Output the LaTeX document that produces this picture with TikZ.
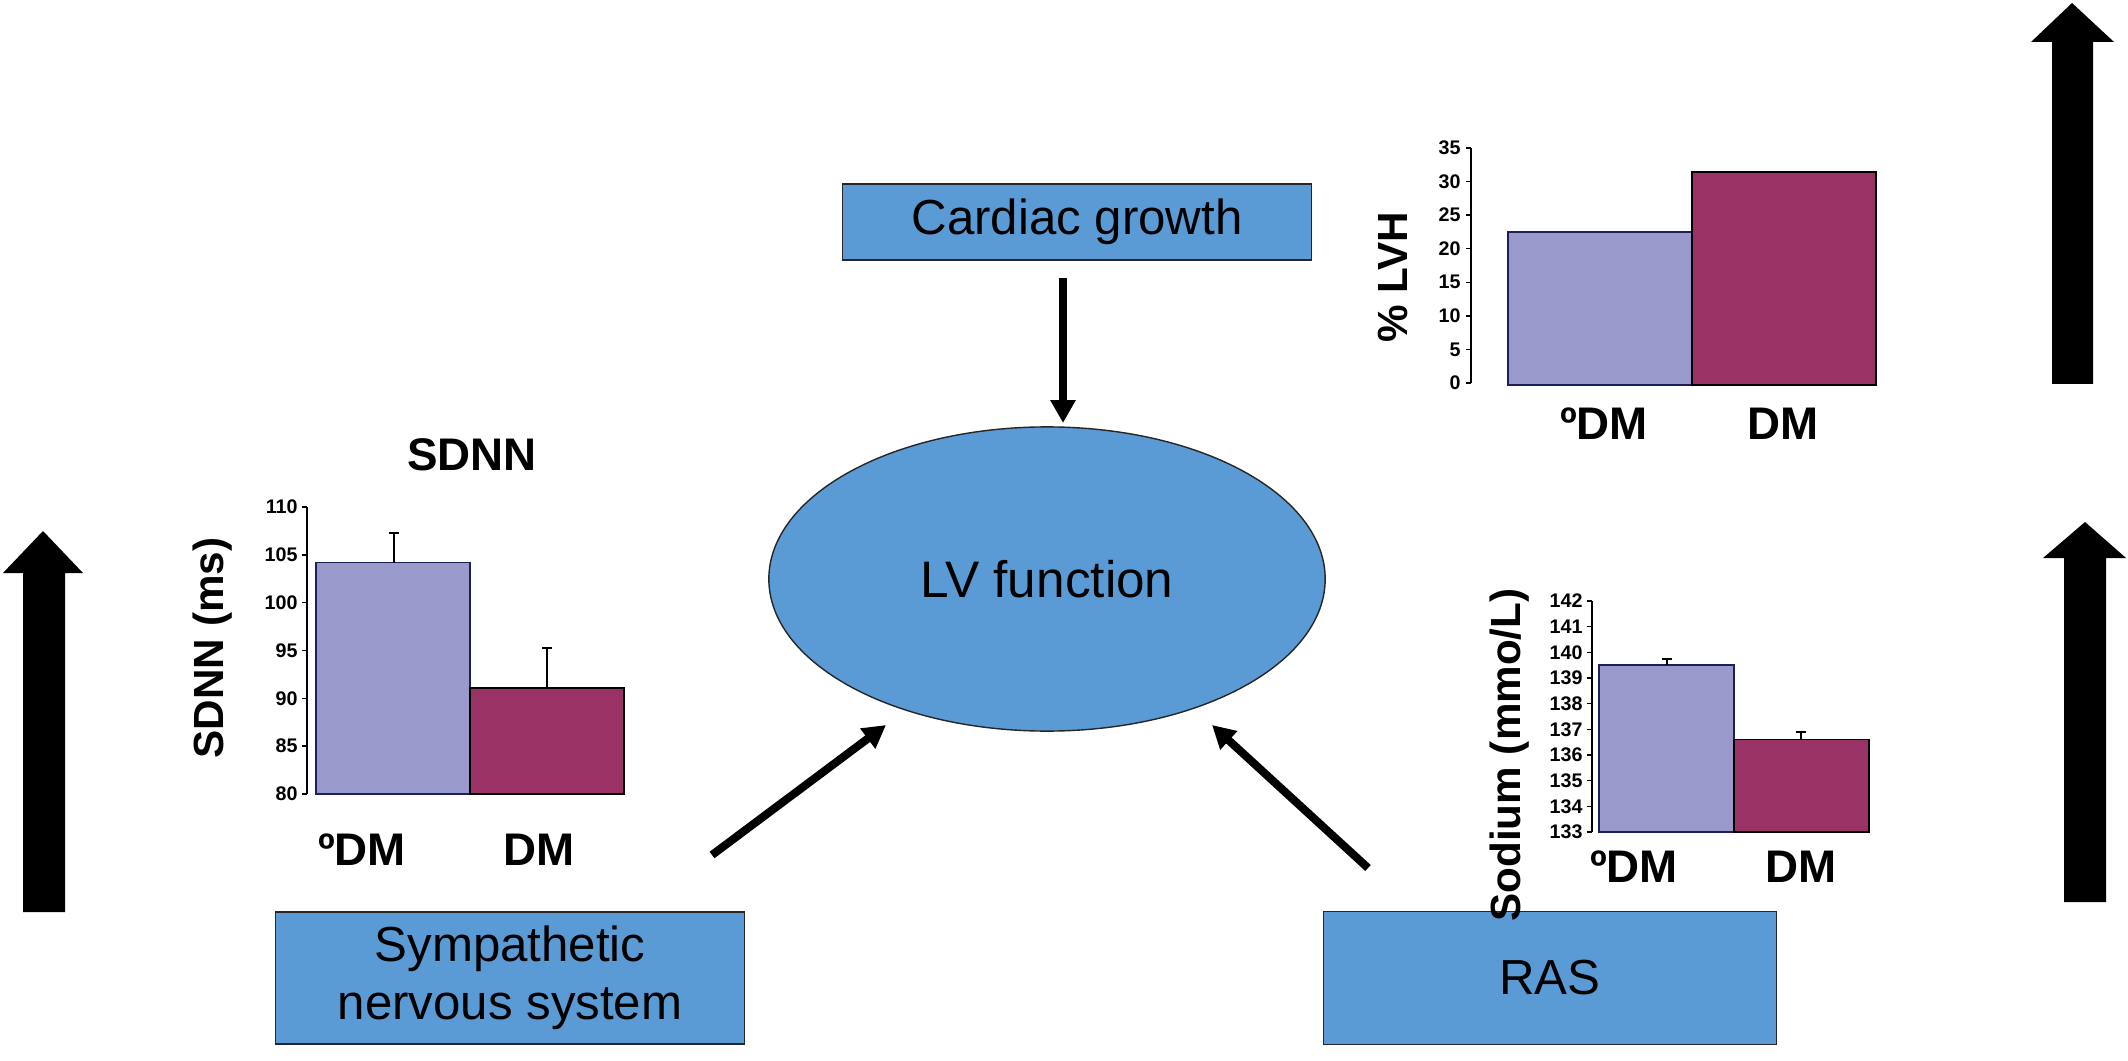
\documentclass[tikz,border=0pt]{standalone}
\usepackage{fontspec}
\setmainfont{Liberation Sans}
\usetikzlibrary{arrows.meta,shapes.geometric,positioning}
\definecolor{boxblue}{RGB}{91,155,213}
\definecolor{barlilac}{RGB}{153,153,204}
\definecolor{barplum}{RGB}{153,51,102}
\definecolor{barline}{RGB}{30,30,90}

\begin{document}
\begin{tikzpicture}[x=0.01cm,y=-0.01cm,
 factor/.style={rectangle,draw=black!85,fill=boxblue,inner sep=0pt,align=center,font=\fontsize{14}{16.5}\selectfont},
 link/.style={line width=2.3pt,-{Triangle[width=6.8pt,length=6.5pt]}},
 ticklbl/.style={anchor=east,inner sep=0.5pt,font=\fontsize{5.6}{6}\selectfont\bfseries},
 axislbl/.style={rotate=90,inner sep=0pt,font=\fontsize{12}{14}\selectfont\bfseries},
 catlbl/.style={inner sep=0pt,font=\fontsize{13}{15}\selectfont\bfseries},
 bigarrow/.style={fill=black},
]
\useasboundingbox (0,0) rectangle (2128,1061);

    \node[factor,minimum width=4.69cm,minimum height=0.76cm] (cardiac) at (1077,222) {Cardiac growth};
    \node[factor,minimum width=4.69cm,minimum height=1.32cm] (sympathetic) at (510,978) {Sympathetic\\nervous system};
    \node[factor,minimum width=4.53cm,minimum height=1.33cm] (ras) at (1550,978) {RAS};
    \node[ellipse,draw=black!85,fill=boxblue,inner sep=0pt,minimum width=5.56cm,minimum height=3.04cm,
          font=\fontsize{14.6}{17}\selectfont] (lv) at (1047,579) {LV function};

    \coordinate (cardiacout) at (1063,278);  \coordinate (lvtop) at (1063,423);
    \coordinate (sympout) at (712,855);     \coordinate (lvleft) at (886,725);
    \coordinate (rasout) at (1368,868);     \coordinate (lvright) at (1212,725);
    \draw[link] (cardiacout) -- (lvtop);
    \draw[link] (sympout) -- (lvleft);
    \draw[link] (rasout) -- (lvright);

    % large up arrows
    \fill[bigarrow] (43,531) -- (83,573) -- (65,573) -- (65,912) -- (23,912) -- (23,573) -- (3,573) -- cycle;
    \fill[bigarrow] (2072,3) -- (2114,42) -- (2093,42) -- (2093,384) -- (2052,384) -- (2052,42) -- (2031,42) -- cycle;
    \fill[bigarrow] (2085,522) -- (2126,558) -- (2106,558) -- (2106,902) -- (2064,902) -- (2064,558) -- (2043,558) -- cycle;

    % SDNN chart
    \node[catlbl] (sdnntitle) at (472,455) {SDNN};
    \draw[thin] (307,507) -- (307,794);
    \foreach \v in {80,85,...,110}
        \draw[thin] (302,{794-(\v-80)*9.567}) -- (307,{794-(\v-80)*9.567}) node[ticklbl] at (300,{794-(\v-80)*9.567}) {\v};
    \draw[barline,fill=barlilac] (316,794) rectangle (470,562.5);
    \draw[black,fill=barplum] (470,794) rectangle (624,687.8);
    \draw[thin] (394,562.5) -- (394,533) (389,533) -- (399,533);
    \draw[thin] (547,687.8) -- (547,648) (542,648) -- (552,648);
    \node[axislbl] (sdnnaxis) at (213,648) {SDNN (ms)};
    \node[catlbl] (sdnnodm) at (362,850) {ºDM};
    \node[catlbl] (sdnndm) at (539,850) {DM};

    % LVH chart
    \draw[thin] (1471,148) -- (1471,383);
    \foreach \v in {0,5,...,35}
        \draw[thin] (1466,{383-\v*6.714}) -- (1471,{383-\v*6.714}) node[ticklbl] at (1463,{383-\v*6.714}) {\v};
    \draw[barline,fill=barlilac] (1508,385) rectangle (1692,232);
    \draw[black,fill=barplum] (1692,385) rectangle (1876,172);
    \node[axislbl] (lvhaxis) at (1393,277) {\% LVH};
    \node[catlbl] (lvhodm) at (1604,424) {ºDM};
    \node[catlbl] (lvhdm) at (1783,424) {DM};

    % Sodium chart
    \draw[thin] (1592,601) -- (1592,832);
    \foreach \v in {133,...,142}
        \draw[thin] (1587,{832-(\v-133)*25.67}) -- (1592,{832-(\v-133)*25.67}) node[ticklbl] at (1585,{832-(\v-133)*25.67}) {\v};
    \draw[barline,fill=barlilac] (1599,832) rectangle (1734,665);
    \draw[black,fill=barplum] (1734,832) rectangle (1869,739.6);
    \draw[thin] (1667,665) -- (1667,659) (1662,659) -- (1672,659);
    \draw[thin] (1801,739.6) -- (1801,732) (1796,732) -- (1806,732);
    \node[axislbl] (naaxis) at (1510,755) {Sodium (mmo/L)};
    \node[catlbl] (naodm) at (1634,867) {ºDM};
    \node[catlbl] (nadm) at (1801,867) {DM};
\end{tikzpicture}
\end{document}
